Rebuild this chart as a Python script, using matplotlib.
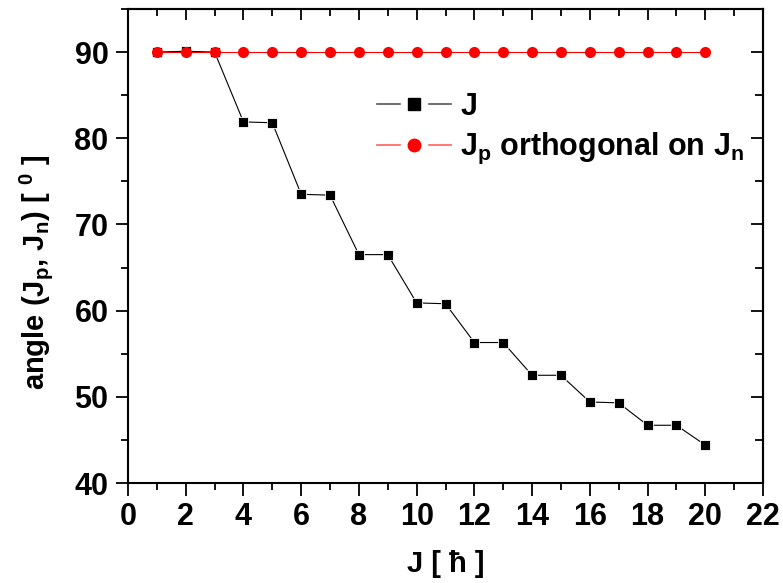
import matplotlib
matplotlib.use("Agg")
import matplotlib.pyplot as plt
from matplotlib.ticker import MultipleLocator
from matplotlib.lines import Line2D

J_values = list(range(1, 21))
angle_J = [90.0, 90.1, 90.0, 81.9, 81.8, 73.5, 73.4, 66.5, 66.5, 60.9,
           60.8, 56.3, 56.3, 52.5, 52.5, 49.4, 49.3, 46.7, 46.7, 44.4]
angle_orth = [90.0] * 20
label_J = 'J'
label_orth = r'J$_\mathregular{p}$ orthogonal on J$_\mathregular{n}$'

fam = "Liberation Sans"
plt.rcParams['font.family'] = [fam, 'DejaVu Sans']
plt.rcParams['font.weight'] = 'bold'
plt.rcParams['mathtext.fontset'] = 'custom'
plt.rcParams['mathtext.rm'] = fam + ':bold'
plt.rcParams['mathtext.it'] = fam + ':bold'
plt.rcParams['mathtext.bf'] = fam + ':bold'

fig = plt.figure(figsize=(7.83, 5.83), dpi=100)
ax = fig.add_axes([128/783, 1-483/583, 635/783, 474/583])

ax.plot(J_values, angle_J, color='black', lw=0.8, marker='s', ms=7.2,
        mec='white', mew=0.6, zorder=2)
ax.plot(J_values, angle_orth, color='red', lw=0.8, marker='o', ms=8,
        mec='red', mew=0, zorder=3)

ax.set_xlim(0, 22)
ax.set_ylim(40, 95)
ax.xaxis.set_major_locator(MultipleLocator(2))
ax.xaxis.set_minor_locator(MultipleLocator(1))
ax.yaxis.set_major_locator(MultipleLocator(10))
ax.yaxis.set_minor_locator(MultipleLocator(5))

ax.tick_params(which='both', direction='out', labelsize=22, width=1.3, pad=5)
ax.tick_params(which='major', length=9)
ax.tick_params(which='minor', length=5)

top = ax.secondary_xaxis('top')
top.xaxis.set_major_locator(MultipleLocator(2))
top.xaxis.set_minor_locator(MultipleLocator(1))
top.tick_params(which='both', direction='in', labeltop=False, width=1.3)
top.tick_params(which='major', length=8)
top.tick_params(which='minor', length=5)
top.spines['top'].set_linewidth(1.5)

right = ax.secondary_yaxis('right')
right.yaxis.set_major_locator(MultipleLocator(10))
right.yaxis.set_minor_locator(MultipleLocator(5))
right.tick_params(which='both', direction='in', labelright=False, width=1.3)
right.tick_params(which='major', length=9)
right.tick_params(which='minor', length=6)
right.spines['right'].set_linewidth(1.5)

for s in ax.spines.values():
    s.set_linewidth(1.5)

ax.set_xlabel('J [ ħ ]', fontsize=21, fontweight='bold')
ax.xaxis.set_label_coords(0.5, (483 - 550) / 474)
ax.xaxis.label.set_va('top')
ax.set_ylabel(r'angle (J$_\mathregular{p}$, J$_\mathregular{n}$) [ $^\mathregular{0}$ ]',
              fontsize=21, fontweight='bold')
ax.yaxis.set_label_coords((55 - 128) / 635, (483 - 272) / 474)

# legend handles: line with a gap around the marker
h1 = (Line2D([], [], color='#555555', lw=1.2),
      Line2D([], [], color='white', marker='s', ls='none', ms=19),
      Line2D([], [], color='black', marker='s', ls='none', ms=8))
h2 = (Line2D([], [], color='#ff6060', lw=1.2),
      Line2D([], [], color='white', marker='s', ls='none', ms=19),
      Line2D([], [], color='red', marker='o', ls='none', ms=9))
leg = ax.legend([h1, h2], [label_J, label_orth], loc='upper left',
                bbox_to_anchor=((377 - 128) / 635, (483 - 92) / 474), frameon=False,
                handlelength=2.43, handletextpad=0.3, labelspacing=0.3,
                borderaxespad=0, borderpad=0,
                prop={'family': fam, 'weight': 'bold', 'size': 22})

fig.savefig('out.png', dpi=100)
